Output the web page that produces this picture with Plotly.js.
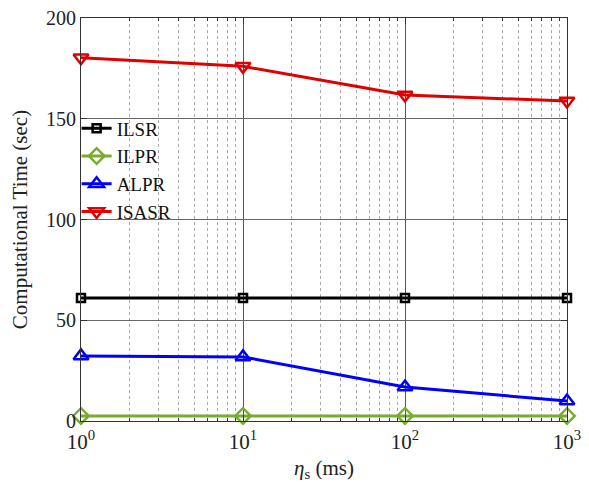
<!DOCTYPE html>
<html>
<head>
<meta charset="utf-8">
<script src="https://cdn.plot.ly/plotly-3.0.1.min.js"></script>
<style>html,body{margin:0;padding:0;background:#fff;}#chart{width:589px;height:482px;}</style>
</head>
<body>
<div id="chart"></div>
<script>
const etaS = [1, 10, 100, 1000];
const ilsr = [61, 61, 61, 61];
const ilpr = [2.5, 2.5, 2.5, 2.5];
const alpr = [32.3, 31.8, 16.9, 9.9];
const isasr = [180.3, 176, 161.8, 158.8];
const xTickVals = [1, 10, 100, 1000];
const xTickText = ['10<sup>0</sup>', '10<sup>1</sup>', '10<sup>2</sup>', '10<sup>3</sup>'];
const xMinorVals = [2,3,4,5,6,7,8,9,20,30,40,50,60,70,80,90,200,300,400,500,600,700,800,900];
const yTickVals = [0, 50, 100, 150, 200];

const font = "'Liberation Serif', 'DejaVu Serif', serif";

function tr(name, y, color, symbol, size) {
  return {
    x: etaS, y: y, name: name, type: 'scatter', mode: 'lines+markers',
    line: {color: color, width: 3},
    marker: {symbol: symbol, size: size, color: color, line: {color: color, width: 2.5}},
    cliponaxis: false
  };
}

const data = [
  tr('ILSR', ilsr, '#000000', 'square-open', 8),
  tr('ILPR', ilpr, '#77AC30', 'diamond-open', 12),
  tr('ALPR', alpr, '#0000FF', 'triangle-up-open', 13),
  tr('ISASR', isasr, '#E00000', 'triangle-down-open', 13)
];

const layout = {
  width: 589, height: 482,
  margin: {l: 81, r: 22, t: 18, b: 61},
  paper_bgcolor: '#fff', plot_bgcolor: '#fff',
  font: {family: font, size: 19, color: '#222'},
  showlegend: true,
  legend: {x: -0.009, y: 0.773, xanchor: 'left', yanchor: 'top', bgcolor: 'rgba(0,0,0,0)',
           font: {family: font, size: 19, color: '#111'}, tracegroupgap: 0, itemwidth: 30},
  xaxis: {
    type: 'log', range: [0, 3],
    tickvals: xTickVals, ticktext: xTickText,
    ticks: 'inside', ticklen: 6, tickcolor: '#333',
    showline: true, linecolor: '#333', linewidth: 1, mirror: 'ticks',
    showgrid: true, gridcolor: '#555', gridwidth: 1,
    zeroline: false, ticklabelstandoff: 2,
    tickfont: {family: font, size: 21, color: '#222'},
    minor: {tickvals: xMinorVals, ticks: 'inside', ticklen: 3, tickcolor: '#333',
            showgrid: true, gridcolor: '#aaa', griddash: 'dot', gridwidth: 1},
    title: {text: '<i>η</i><sub>s</sub> (ms)', font: {family: font, size: 21, color: '#222'}, standoff: 8}
  },
  yaxis: {
    range: [0, 200], tickvals: yTickVals,
    ticks: 'inside', ticklen: 6, tickcolor: '#333',
    showline: true, linecolor: '#333', linewidth: 1, mirror: 'ticks',
    showgrid: true, gridcolor: '#666', gridwidth: 1,
    zeroline: false,
    tickfont: {family: font, size: 20, color: '#222'},
    title: {text: 'Computational Time (sec)', font: {family: font, size: 21, color: '#222'}, standoff: 12}
  }
};

Plotly.newPlot('chart', data, layout, {displayModeBar: false, staticPlot: true});
</script>
</body>
</html>
